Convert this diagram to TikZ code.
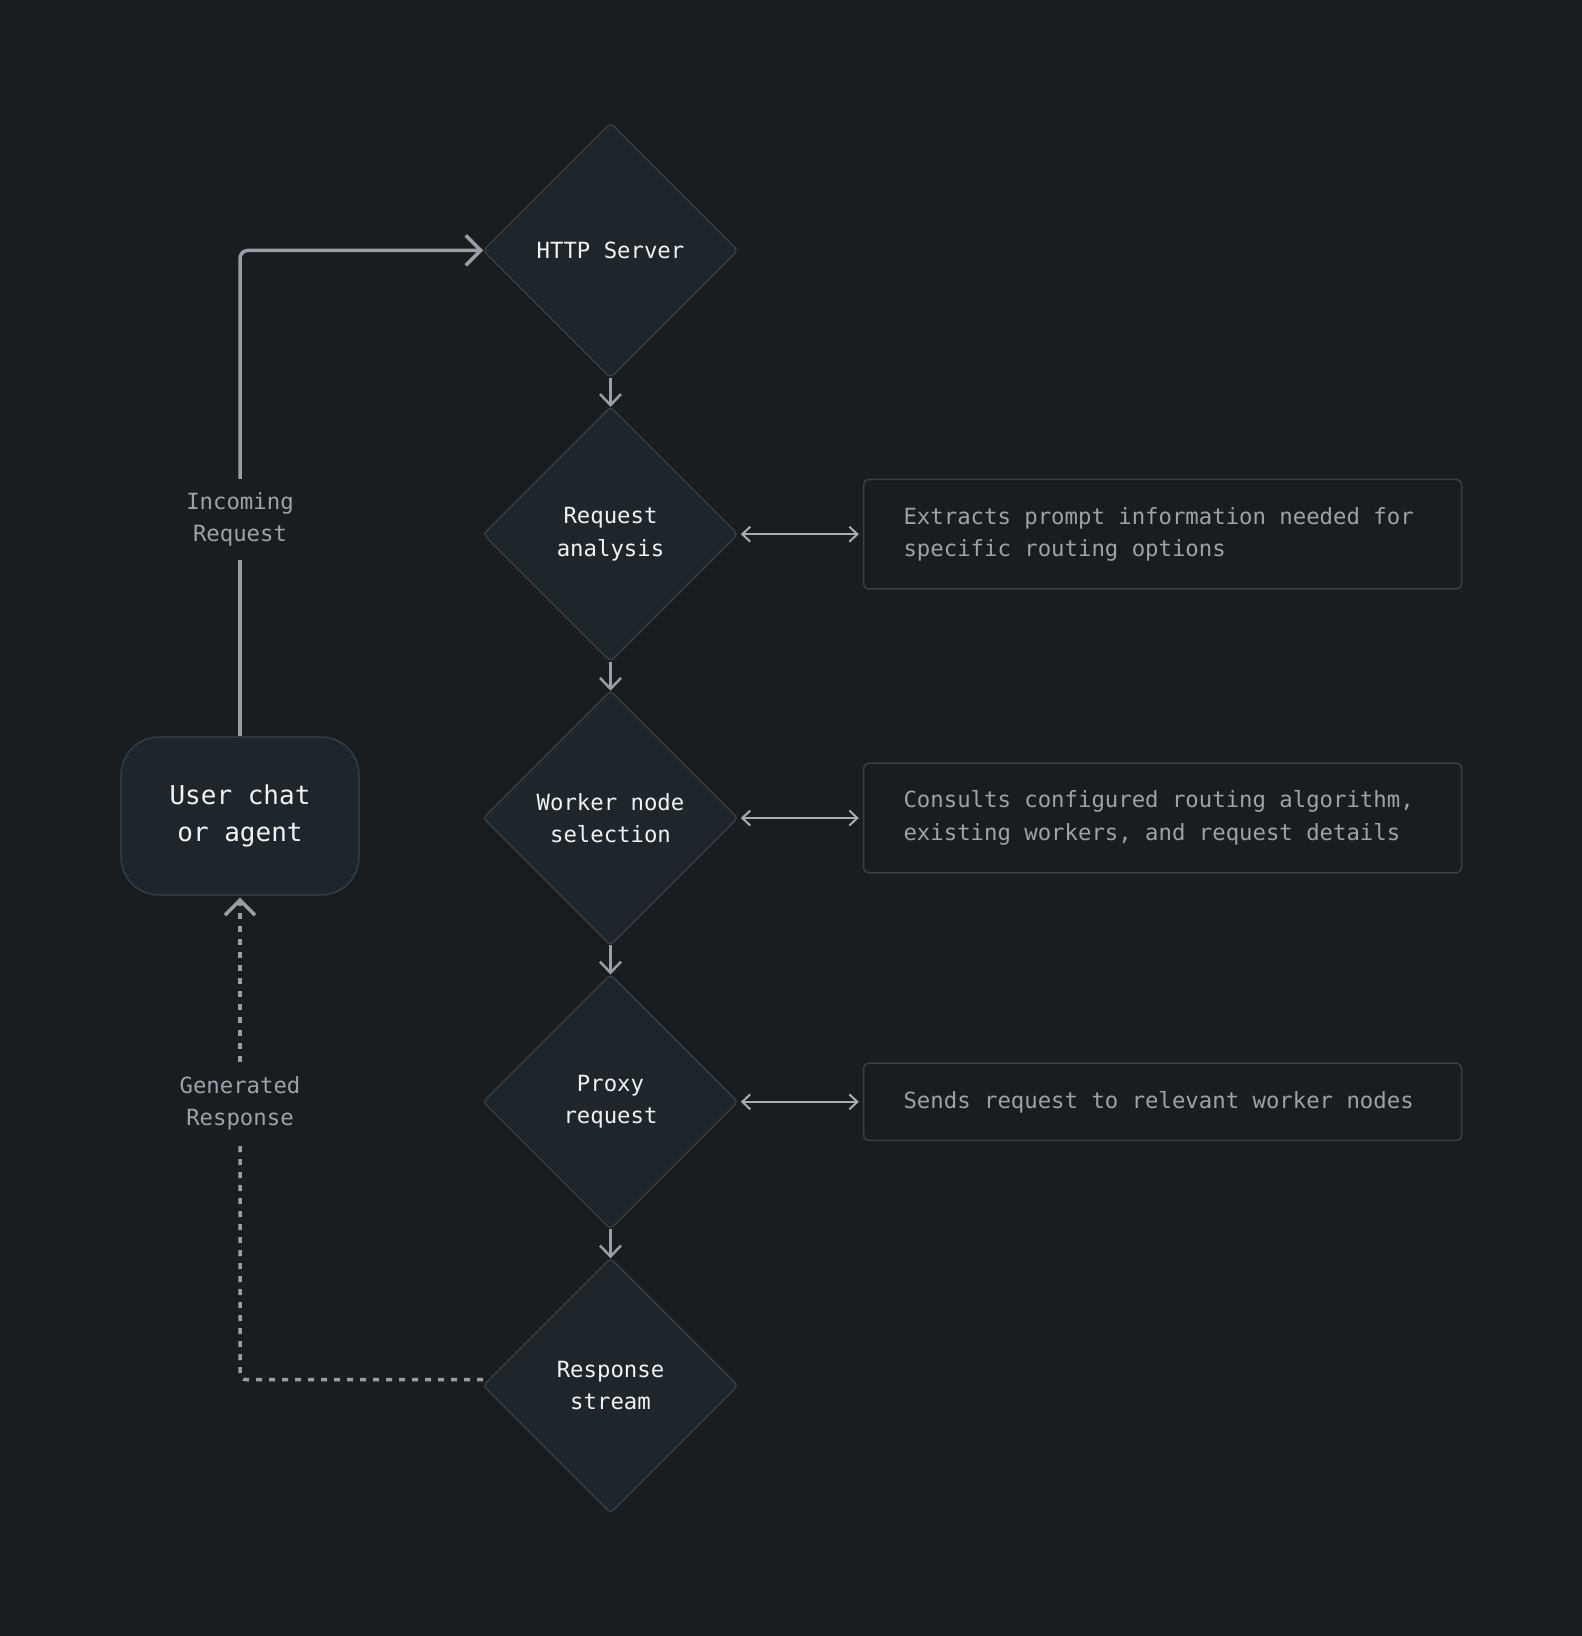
\documentclass[tikz,border=0pt]{standalone}
\usepackage{fontspec}
\setmonofont{DejaVu Sans Mono}
\usetikzlibrary{shapes.geometric,positioning,arrows.meta}
\definecolor{bgcol}{HTML}{1A1D20}
\definecolor{boxfill}{HTML}{1F262B}
\definecolor{boxline}{HTML}{394147}
\definecolor{notebord}{HTML}{3A3F45}
\definecolor{linecol}{HTML}{9A9DA6}
\definecolor{textwhite}{HTML}{F0F2F4}
\definecolor{textgray}{HTML}{9EA1A8}
\begin{document}
\begin{tikzpicture}[x=1pt,y=-1pt,
  every node/.style={font=\ttfamily\fontsize{22.3}{32.3}\selectfont},
  decision/.style={diamond, aspect=1, minimum width=254.6pt, minimum height=254.6pt, inner sep=0pt,
    outer sep=0pt, rounded corners=4pt, fill=boxfill, draw=boxline, line width=1.2pt,
    text=textwhite, align=center},
  note/.style={rectangle, rounded corners=5pt, draw=notebord, line width=1.5pt, text=textgray,
    text width=518pt, align=flush left, inner xsep=40pt, inner ysep=27.7pt},
  tag/.style={text=textgray, align=center, inner xsep=0pt, inner ysep=13.5pt},
  flow/.style={draw=linecol, line width=3.5pt, -{Straight Barb[length=15pt,width=30pt]}},
  step arrow/.style={draw=linecol, line width=2.5pt, -{Straight Barb[length=11pt,width=21pt]}},
  both arrow/.style={draw=linecol!85!white, line width=2pt, shorten <=3pt, shorten >=4pt,
    {Straight Barb[length=8pt,width=15pt]}-{Straight Barb[length=8pt,width=15pt]}},
  node distance=29.2pt]
\useasboundingbox[fill=bgcol] (0,0) rectangle (1582,1636);

% main column
\node [decision] (http) at (610.5,250.4) {HTTP Server};
\node [decision, below=of http] (analysis) {Request\\analysis};
\node [decision, below=of analysis] (worker) {Worker node\\selection};
\node [decision, below=of worker] (proxy) {Proxy\\request};
\node [decision, below=of proxy] (stream) {Response\\stream};

\foreach \a/\b in {http/analysis, analysis/worker, worker/proxy, proxy/stream}
  \draw [step arrow] (\a.south) -- (\b.north);

% notes
\node [note, right=125pt of analysis] (analysisnote) {Extracts prompt information needed for\\specific routing options};
\node [note, right=125pt of worker] (workernote) {Consults configured routing algorithm,\\existing workers, and request details};
\node [note, right=125pt of proxy] (proxynote) {Sends request to relevant worker nodes};

\draw [both arrow] (analysis.east) -- (analysisnote.west);
\draw [both arrow] (worker.east) -- (workernote.west);
\draw [both arrow] (proxy.east) -- (proxynote.west);

% user
\node [rectangle, rounded corners=38pt, minimum width=238pt, minimum height=158pt, fill=boxfill,
  draw=boxline, line width=1.2pt, text=textwhite, align=center,
  font=\ttfamily\fontsize{26}{36.5}\selectfont] (user) at (240,816) {User chat\\or agent};
\node [tag] (incoming) at (240,519.5) {Incoming\\Request};
\node [tag] (generated) at (240,1103) {Generated\\Response};

\draw [draw=linecol, line width=3.5pt] (user.north) -- (incoming.south);
\draw [flow, rounded corners=8pt] (incoming.north) |- (http.west);
\draw [draw=linecol, line width=3.5pt, dash pattern=on 6pt off 7pt, rounded corners=6pt]
  ([yshift=6pt]stream.west) -| (generated.south);
\draw [flow, dash pattern=on 6pt off 7pt, shorten >=2pt] (generated.north) -- (user.south);
\end{tikzpicture}
\end{document}
